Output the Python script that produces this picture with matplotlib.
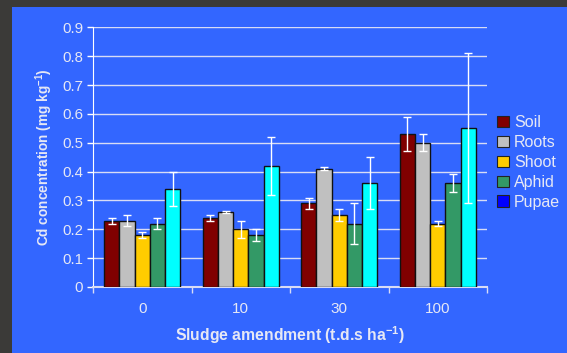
import numpy as np
import matplotlib
matplotlib.use("Agg")
import matplotlib.pyplot as plt
from matplotlib.patches import Rectangle, Patch

plt.rcParams['font.family'] = ['Liberation Sans', 'DejaVu Sans']

# Sludge amendment levels and Cd concentrations (mg/kg) with error half-widths
categories = ["0", "10", "30", "100"]
series = ["Soil", "Roots", "Shoot", "Aphid", "Pupae"]
soil = [0.23, 0.24, 0.29, 0.53]
roots = [0.23, 0.26, 0.41, 0.50]
shoot = [0.18, 0.20, 0.25, 0.22]
aphid = [0.22, 0.18, 0.22, 0.36]
pupae = [0.34, 0.42, 0.36, 0.55]
soil_err = [0.01, 0.01, 0.02, 0.06]
roots_err = [0.02, 0.002, 0.005, 0.03]
shoot_err = [0.01, 0.03, 0.02, 0.01]
aphid_err = [0.02, 0.02, 0.07, 0.03]
pupae_err = [0.06, 0.10, 0.09, 0.26]
y_ticks = [0, 0.1, 0.2, 0.3, 0.4, 0.5, 0.6, 0.7, 0.8, 0.9]

values = [soil, roots, shoot, aphid, pupae]
errors = [soil_err, roots_err, shoot_err, aphid_err, pupae_err]
bar_colors = ["#800000", "#C0C0C0", "#FFCC00", "#339966", "#00FFFF"]
legend_colors = ["#800000", "#C0C0C0", "#FFCC00", "#339966", "#0000FF"]

panel_blue = "#3366FF"
text_col = "#E6E8F5"
grid_col = "#D8DCF5"

W, H = 567, 353
fig = plt.figure(figsize=(W / 100, H / 100), dpi=100)
fig.patch.set_facecolor("#3b3a38")
# blue slide panel
fig.patches.append(Rectangle((12 / W, 0), 1 - 12 / W, 1 - 7 / H,
                             transform=fig.transFigure, facecolor=panel_blue,
                             edgecolor="none", zorder=0))

ax = fig.add_axes([93 / W, 1 - 287 / H, (487 - 93) / W, (287 - 27.3) / H])
ax.set_zorder(2)
ax.patch.set_alpha(0)

x = np.arange(len(categories))
width = 0.154
for i, (vals, errs) in enumerate(zip(values, errors)):
    pos = x + (i - 2) * width
    ax.bar(pos, vals, width, color=bar_colors[i], edgecolor="#111111",
           linewidth=1.0, zorder=3)
    ax.errorbar(pos, vals, yerr=errs, fmt="none", ecolor="white",
                elinewidth=1.0, capsize=3, capthick=1.0, zorder=4)

ax.set_xlim(-0.5, len(categories) - 0.5)
ax.set_ylim(0, 0.9)
ax.set_yticks(y_ticks)
ax.set_yticklabels(["0" if t == 0 else f"{t:.1f}" for t in y_ticks])
ax.yaxis.grid(True, color=grid_col, linewidth=1.0, zorder=1)
ax.set_axisbelow(True)

ax.set_xticks(x)
ax.set_xticklabels(categories)
ax.set_xticks(np.arange(-0.5, len(categories), 1.0), minor=True)
ax.tick_params(axis="x", which="major", length=0, pad=11,
               colors=text_col, labelsize=11)
ax.tick_params(axis="x", which="minor", length=4, width=1, color=grid_col,
               direction="out")
ax.tick_params(axis="y", length=4, width=1, color="white", direction="out",
               colors=text_col, labelsize=10.8, pad=3)

for s in ["top", "right"]:
    ax.spines[s].set_visible(False)
ax.spines["left"].set_color("white")
ax.spines["bottom"].set_color(grid_col)
ax.spines["bottom"].set_linewidth(1.5)

ax.set_ylabel("Cd concentration (mg kg$^{\\mathregular{-1}}$)", color=text_col,
              fontsize=9.8, fontweight="bold", labelpad=5)
ax.set_xlabel("Sludge amendment (t.d.s ha$^{\\mathregular{-1}}$)", color=text_col,
              fontsize=11.3, fontweight="bold", labelpad=6)

handles = [Patch(facecolor=c, edgecolor="#222222", linewidth=0.8)
           for c in legend_colors]
fig.legend(handles, series, loc="upper left",
           bbox_to_anchor=(483 / W, 1 - 101 / H), frameon=False,
           handlelength=0.7, handleheight=0.7, handletextpad=0.35,
           labelspacing=0.3, fontsize=11.5, labelcolor=text_col)

fig.savefig("out.png", dpi=100, facecolor=fig.get_facecolor())
